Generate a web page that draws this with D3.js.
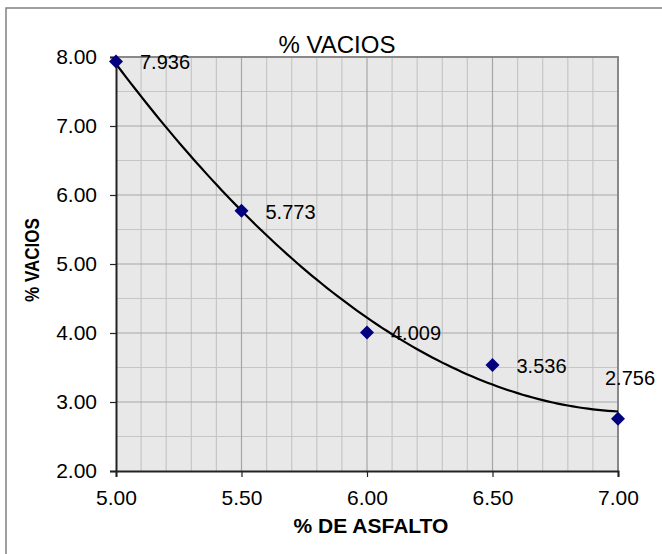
<!DOCTYPE html>
<html><head><meta charset="utf-8">
<script src="https://cdn.jsdelivr.net/npm/d3@7"></script>
<style>body{margin:0;background:#fff}svg{display:block}text{font-family:Arial,"Liberation Sans",sans-serif}</style>
</head><body>
<script>
const asfalto = [5.0, 5.5, 6.0, 6.5, 7.0];
const vacios = [7.936, 5.773, 4.009, 3.536, 2.756];
const labels = ["7.936", "5.773", "4.009", "3.536", "2.756"];
const xTicks = [5.0, 5.5, 6.0, 6.5, 7.0];
const yTicks = [2, 3, 4, 5, 6, 7, 8];

const W = 662, H = 554;
const m = {left:116, right:618, top:57, bottom:471};
const svg = d3.select("body").append("svg").attr("width", W).attr("height", H);

// outer chart border (extends beyond the picture on right/bottom)
svg.append("rect").attr("x",6).attr("y",8).attr("width",700).attr("height",600)
  .attr("fill","#fff").attr("stroke","#808080").attr("stroke-width",1.5);

const x = d3.scaleLinear().domain([5,7]).range([m.left, m.right]);
const y = d3.scaleLinear().domain([2,8]).range([m.bottom, m.top]);

svg.append("rect").attr("x",m.left).attr("y",m.top).attr("width",m.right-m.left).attr("height",m.bottom-m.top)
  .attr("fill","#e8e8e8");

// minor gridlines
const xMinor = d3.range(51,70).map(d=>d/10).filter(v=>Math.abs(v*2-Math.round(v*2))>1e-6);
const yMinor = d3.range(2.5,8,1);
svg.append("g").selectAll("line").data(xMinor).join("line")
  .attr("x1",d=>x(d)).attr("x2",d=>x(d)).attr("y1",m.top).attr("y2",m.bottom)
  .attr("stroke","#c6c6c6").attr("stroke-width",1.2);
svg.append("g").selectAll("line").data(yMinor).join("line")
  .attr("y1",d=>y(d)).attr("y2",d=>y(d)).attr("x1",m.left).attr("x2",m.right)
  .attr("stroke","#c6c6c6").attr("stroke-width",1.2);
// major gridlines
svg.append("g").selectAll("line").data(xTicks.slice(1,-1)).join("line")
  .attr("x1",d=>x(d)).attr("x2",d=>x(d)).attr("y1",m.top).attr("y2",m.bottom)
  .attr("stroke","#a6a6a6").attr("stroke-width",1.2);
svg.append("g").selectAll("line").data(yTicks.slice(1,-1)).join("line")
  .attr("y1",d=>y(d)).attr("y2",d=>y(d)).attr("x1",m.left).attr("x2",m.right)
  .attr("stroke","#a6a6a6").attr("stroke-width",1.2);

// top/right border
svg.append("path").attr("d",`M${m.left},${m.top}H${m.right}V${m.bottom}`)
  .attr("fill","none").attr("stroke","#888").attr("stroke-width",2);

// axes
const xAxis = d3.axisBottom(x).tickValues(xTicks).tickFormat(d3.format(".2f")).tickSizeOuter(0).tickSize(6).tickPadding(13);
const yAxis = d3.axisLeft(y).tickValues(yTicks).tickFormat(d3.format(".2f")).tickSizeOuter(0).tickSize(6).tickPadding(13);
const gx = svg.append("g").attr("transform",`translate(0,${m.bottom})`).call(xAxis);
const gy = svg.append("g").attr("transform",`translate(${m.left},0)`).call(yAxis);
[gx,gy].forEach(g=>{
  g.select(".domain").attr("stroke","#222").attr("stroke-width",2);
  g.selectAll(".tick line").attr("stroke","#222").attr("stroke-width",1.2);
  g.selectAll(".tick text").attr("fill","#000").style("font-size","21px").style("font-family","Arial, 'Liberation Sans', sans-serif");
});

// quadratic trendline (least squares fit of the data)
function polyfit2(xs, ys){
  const n = xs.length;
  let S=[0,0,0,0,0], T=[0,0,0];
  for(let i=0;i<n;i++){
    let p=1;
    for(let k=0;k<5;k++){S[k]+=p; if(k<3) T[k]+=p*ys[i]; p*=xs[i];}
  }
  const A=[[S[0],S[1],S[2],T[0]],[S[1],S[2],S[3],T[1]],[S[2],S[3],S[4],T[2]]];
  for(let i=0;i<3;i++){
    for(let j=i+1;j<3;j++){const f=A[j][i]/A[i][i]; for(let k=i;k<4;k++) A[j][k]-=f*A[i][k];}
  }
  const c=[0,0,0];
  for(let i=2;i>=0;i--){let s=A[i][3]; for(let k=i+1;k<3;k++) s-=A[i][k]*c[k]; c[i]=s/A[i][i];}
  return c;
}
const cf = polyfit2(asfalto, vacios);
const fx = d3.range(0,101).map(i=>5+2*i/100);
svg.append("path").datum(fx)
  .attr("d", d3.line().x(d=>x(d)).y(d=>y(cf[0]+cf[1]*d+cf[2]*d*d)))
  .attr("fill","none").attr("stroke","#000").attr("stroke-width",2.2);

// markers
svg.append("g").selectAll("path").data(asfalto).join("path")
  .attr("transform",(d,i)=>`translate(${x(d)},${y(vacios[i])})`)
  .attr("d","M0,-7L7,0L0,7L-7,0Z").attr("fill","#000080");

// data labels
svg.append("g").selectAll("text").data(asfalto).join("text")
  .attr("x",(d,i)=> i===asfalto.length-1 ? x(d)-13 : x(d)+24)
  .attr("y",(d,i)=> i===asfalto.length-1 ? y(vacios[i])-34 : y(vacios[i])+8)
  .style("font-size","20px").attr("fill","#000")
  .text((d,i)=>labels[i]);

// titles
svg.append("text").attr("x",337).attr("y",53).attr("text-anchor","middle")
  .style("font-size","24px").text("% VACIOS");
svg.append("text").attr("x",371).attr("y",533).attr("text-anchor","middle")
  .style("font-size","21px").style("font-weight","bold").text("% DE ASFALTO");
svg.append("text").attr("transform","translate(39,260) rotate(-90)").attr("text-anchor","middle")
  .attr("textLength",84).attr("lengthAdjust","spacingAndGlyphs")
  .style("font-size","20px").style("font-weight","bold").text("% VACIOS");
</script>
</body></html>
